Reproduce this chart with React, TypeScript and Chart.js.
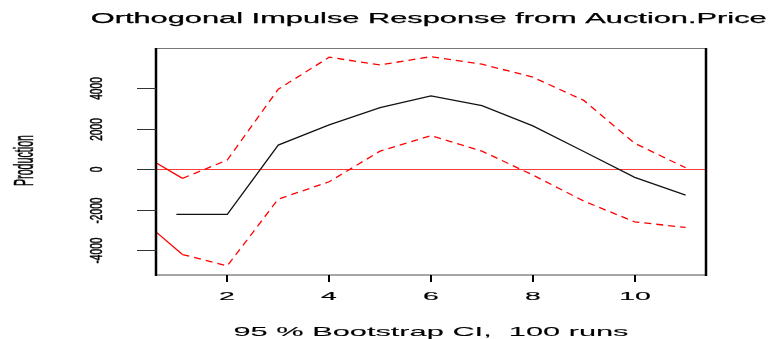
import { useEffect, useRef } from "react";
import { Chart, registerables } from "chart.js";

Chart.register(...registerables);

// Impulse response of Production to an orthogonal shock in Auction.Price
const steps = [1, 2, 3, 4, 5, 6, 7, 8, 9, 10, 11];
const response = [-2220, -2220, 1200, 2190, 3045, 3620, 3140, 2140, 880, -395, -1270];

// Bootstrap confidence band
const ciSteps = [0.6, 1.12, 2, 3, 4, 5, 6, 7, 8, 9, 10, 11];
const upperCI = [326, -445, 460, 3950, 5530, 5150, 5560, 5190, 4545, 3400, 1285, 80];
const lowerCI = [-3083, -4200, -4760, -1467, -612, 900, 1660, 900, -280, -1565, -2590, -2865];

const xTickValues = [2, 4, 6, 8, 10];
const yTickValues = [-4000, -2000, 0, 2000, 4000];
const xLimits = [0.6, 11.4];
const yLimits = [-5210, 5985];

const titleText = "Orthogonal Impulse Response from Auction.Price";
const yAxisTitle = "Production";
const xAxisTitle = "95 % Bootstrap CI,  100 runs";

const FONT = '"Liberation Sans", Arial, Helvetica, sans-serif';

function stretchedText(
  ctx: CanvasRenderingContext2D,
  text: string,
  x: number,
  y: number,
  font: string,
  opts: { sx?: number; width?: number; vertical?: boolean; weight?: number }
) {
  ctx.save();
  ctx.translate(x, y);
  if (opts.vertical) ctx.rotate(-Math.PI / 2);
  ctx.font = font;
  const w = ctx.measureText(text).width;
  const sx = opts.width ? opts.width / w : opts.sx ?? 1;
  ctx.scale(sx, 1);
  ctx.fillStyle = "#000";
  ctx.strokeStyle = "#000";
  ctx.textAlign = "center";
  ctx.textBaseline = "alphabetic";
  ctx.fillText(text, 0, 0);
  if (opts.weight) {
    ctx.lineWidth = opts.weight;
    ctx.strokeText(text, 0, 0);
  }
  ctx.restore();
}

const framePlugin = {
  id: "irfFrame",
  beforeDatasetsDraw(chart: any) {
    const { ctx, chartArea, scales } = chart;
    const y0 = Math.round(scales.y.getPixelForValue(0)) + 0.5;
    ctx.save();
    ctx.strokeStyle = "rgba(255,40,40,0.9)";
    ctx.lineWidth = 1;
    ctx.beginPath();
    ctx.moveTo(chartArea.left, y0);
    ctx.lineTo(chartArea.right, y0);
    ctx.stroke();
    ctx.restore();
  },
  afterDatasetsDraw(chart: any) {
    const { ctx, chartArea, scales } = chart;
    const { left, right, top, bottom } = chartArea;
    ctx.save();
    // box: heavy verticals, light horizontals
    ctx.strokeStyle = "#777";
    ctx.lineWidth = 1;
    ctx.beginPath();
    ctx.moveTo(left, top + 0.5);
    ctx.lineTo(right, top + 0.5);
    ctx.stroke();
    ctx.lineWidth = 1.6;
    ctx.strokeStyle = "#888";
    ctx.beginPath();
    ctx.moveTo(left, bottom);
    ctx.lineTo(right, bottom);
    ctx.stroke();
    ctx.strokeStyle = "#000";
    ctx.lineWidth = 2.5;
    ctx.beginPath();
    ctx.moveTo(left, top);
    ctx.lineTo(left, bottom + 1);
    ctx.moveTo(right, top);
    ctx.lineTo(right, bottom + 1);
    ctx.stroke();

    // x axis ticks and labels
    ctx.strokeStyle = "#000";
    ctx.lineWidth = 2;
    for (const v of xTickValues) {
      const px = Math.round(scales.x.getPixelForValue(v));
      ctx.beginPath();
      ctx.moveTo(px, bottom);
      ctx.lineTo(px, bottom + 7);
      ctx.stroke();
      stretchedText(ctx, String(v), px, 300, `11.6px ${FONT}`, { sx: 2.45, weight: 0.15 });
    }

    // y axis ticks and labels
    ctx.strokeStyle = "#333";
    ctx.lineWidth = 1;
    for (const v of yTickValues) {
      const py = Math.round(scales.y.getPixelForValue(v)) + 0.5;
      ctx.beginPath();
      ctx.moveTo(left - 19, py);
      ctx.lineTo(left, py);
      ctx.stroke();
      stretchedText(ctx, String(v), 102, py, `17px ${FONT}`, { sx: 0.6, vertical: true, weight: 0.5 });
    }
    ctx.restore();

    stretchedText(ctx, titleText, 428.7, 22.7, `14px ${FONT}`, { width: 676, weight: 0.25 });
    stretchedText(ctx, xAxisTitle, 431, 336, `13px ${FONT}`, { width: 395, weight: 0.1 });
    stretchedText(ctx, yAxisTitle, 33.3, 160.5, `27px ${FONT}`, { width: 51, vertical: true, weight: 0.5 });
  },
};

export default function App() {
  const ref = useRef<HTMLCanvasElement>(null);

  useEffect(() => {
    if (!ref.current) return;
    const firstSolid = (c: any) => (c.p0DataIndex === 0 ? [] : undefined);
    const chart = new Chart(ref.current, {
      type: "line",
      data: {
        datasets: [
          {
            label: "upper",
            data: ciSteps.map((s, i) => ({ x: s, y: upperCI[i] })),
            borderColor: "#ff0000",
            borderWidth: 1.3,
            borderDash: [7, 5],
            segment: { borderDash: firstSolid },
            pointRadius: 0,
            fill: false,
          },
          {
            label: "lower",
            data: ciSteps.map((s, i) => ({ x: s, y: lowerCI[i] })),
            borderColor: "#ff0000",
            borderWidth: 1.3,
            borderDash: [7, 5],
            segment: { borderDash: firstSolid },
            pointRadius: 0,
            fill: false,
          },
          {
            label: "Production",
            data: steps.map((s, i) => ({ x: s, y: response[i] })),
            borderColor: "#111",
            borderWidth: 1.3,
            pointRadius: 0,
            fill: false,
          },
        ],
      },
      options: {
        animation: false,
        responsive: false,
        maintainAspectRatio: false,
        devicePixelRatio: 1,
        layout: { padding: { left: 156, right: 63, top: 48, bottom: 64 } },
        plugins: {
          legend: { display: false },
          title: { display: false },
          tooltip: { enabled: false },
        },
        elements: { line: { tension: 0 } },
        scales: {
          x: { type: "linear", min: xLimits[0], max: xLimits[1], display: false },
          y: { type: "linear", min: yLimits[0], max: yLimits[1], display: false },
        },
      },
      plugins: [framePlugin],
    });
    return () => chart.destroy();
  }, []);

  return (
    <div style={{ position: "absolute", left: 0, top: 0, width: 769, height: 339, background: "#fff" }}>
      <canvas ref={ref} width={769} height={339} style={{ display: "block" }} />
    </div>
  );
}
